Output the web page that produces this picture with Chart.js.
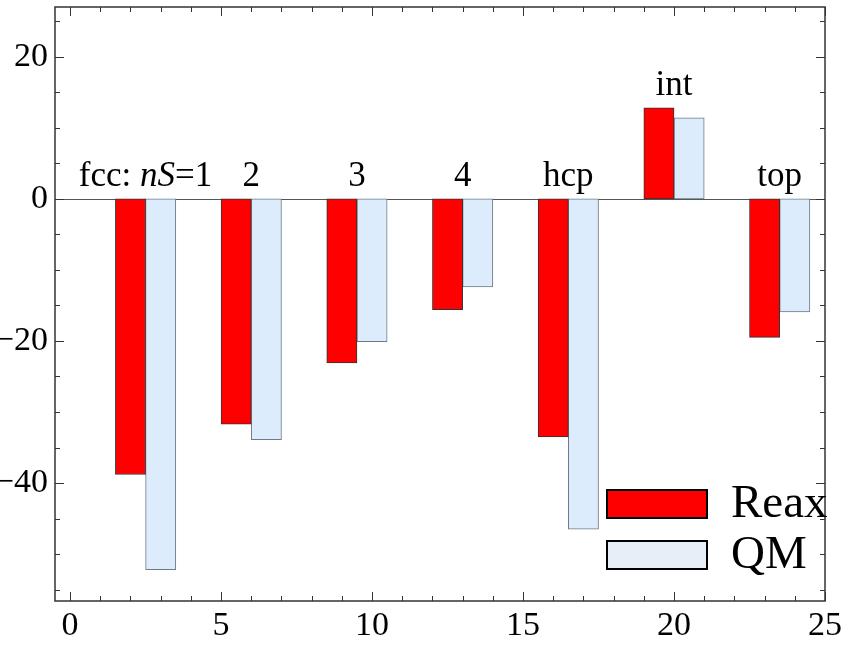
<!DOCTYPE html>
<html>
<head>
<meta charset="utf-8">
<script src="https://cdn.jsdelivr.net/npm/chart.js@4/dist/chart.umd.min.js"></script>
<style>
  html, body { margin: 0; padding: 0; background: #fff; }
  #wrap { width: 846px; height: 648px; }
</style>
</head>
<body>
<div id="wrap"><canvas id="chart"></canvas></div>
<script>
// ============================================
// DATA
// ============================================
// adsorption sites; text between * is drawn in italics
const siteLabels = ['fcc: *nS*=1', '2', '3', '4', 'hcp', 'int', 'top'];
const reaxX = [2, 5.5, 9, 12.5, 16, 19.5, 23];
const qmX = [3, 6.5, 10, 13.5, 17, 20.5, 24];
const reaxValues = [-38.8, -31.7, -23.1, -15.6, -33.5, 12.8, -19.5];
const qmValues = [-52.2, -33.9, -20.1, -12.4, -46.5, 11.4, -15.9];
const xTicks = [0, 5, 10, 15, 20, 25];
const yTicks = [-40, -20, 0, 20];

const SERIF = '"Liberation Serif", "Times New Roman", serif';

// ============================================
// PLUGINS
// ============================================
// zero line behind the bars
const zeroLine = {
  id: 'zeroLine',
  beforeDatasetsDraw(chart) {
    const { ctx, chartArea, scales } = chart;
    const y = Math.round(scales.y.getPixelForValue(0)) + 0.5;
    ctx.save();
    ctx.strokeStyle = '#555';
    ctx.lineWidth = 1;
    ctx.beginPath();
    ctx.moveTo(chartArea.left, y);
    ctx.lineTo(chartArea.right, y);
    ctx.stroke();
    ctx.restore();
  }
};

// Mathematica-style frame with inward ticks on all four sides
const frameTicks = {
  id: 'frameTicks',
  afterDatasetsDraw(chart) {
    const { ctx, chartArea: a, scales } = chart;
    ctx.save();
    ctx.strokeStyle = '#333';
    ctx.lineWidth = 1.5;
    ctx.strokeRect(a.left, a.top, a.right - a.left, a.bottom - a.top);

    ctx.lineWidth = 1;
    ctx.beginPath();
    // x: minor every 1, major every 5
    for (let v = Math.ceil(scales.x.min); v <= scales.x.max; v++) {
      const px = Math.round(scales.x.getPixelForValue(v)) + 0.5;
      const len = xTicks.includes(v) ? 9 : 5;
      ctx.moveTo(px, a.bottom); ctx.lineTo(px, a.bottom - len);
      ctx.moveTo(px, a.top); ctx.lineTo(px, a.top + len);
    }
    // y: minor every 5, major at labelled values
    for (let v = Math.ceil(scales.y.min / 5) * 5; v <= scales.y.max; v += 5) {
      const py = Math.round(scales.y.getPixelForValue(v)) + 0.5;
      const len = yTicks.includes(v) ? 9 : 5;
      ctx.moveTo(a.left, py); ctx.lineTo(a.left + len, py);
      ctx.moveTo(a.right, py); ctx.lineTo(a.right - len, py);
    }
    ctx.stroke();
    ctx.restore();
  }
};

// site names above each pair of bars
const siteNames = {
  id: 'siteNames',
  afterDatasetsDraw(chart) {
    const { ctx, scales } = chart;
    ctx.save();
    ctx.fillStyle = '#000';
    ctx.textBaseline = 'alphabetic';
    ctx.textAlign = 'left';
    siteLabels.forEach((label, i) => {
      const cx = scales.x.getPixelForValue((reaxX[i] + qmX[i]) / 2);
      const top = Math.max(0, reaxValues[i], qmValues[i]);
      const y = scales.y.getPixelForValue(top) - 13;
      const parts = label.split('*').map((t, k) => ({ text: t, italic: k % 2 === 1 }));
      const fontFor = p => `${p.italic ? 'italic ' : ''}35px ${SERIF}`;
      let width = 0;
      parts.forEach(p => { ctx.font = fontFor(p); width += ctx.measureText(p.text).width; });
      let x = cx - width / 2;
      parts.forEach(p => {
        ctx.font = fontFor(p);
        ctx.fillText(p.text, x, y);
        x += ctx.measureText(p.text).width;
      });
    });
    ctx.restore();
  }
};

// legend boxes in the lower right corner of the frame
const boxLegend = {
  id: 'boxLegend',
  afterDraw(chart) {
    const { ctx, chartArea: a } = chart;
    ctx.save();
    ctx.font = `47px ${SERIF}`;
    ctx.textBaseline = 'middle';
    ctx.textAlign = 'left';
    chart.data.datasets.forEach((ds, i) => {
      const bx = a.right - 218;
      const by = a.bottom - 111 + i * 51;
      ctx.fillStyle = ds.legendFill || ds.backgroundColor;
      ctx.fillRect(bx, by, 100, 28);
      ctx.strokeStyle = '#000';
      ctx.lineWidth = 2;
      ctx.strokeRect(bx, by, 100, 28);
      ctx.fillStyle = '#000';
      ctx.fillText(ds.label, bx + 124, by + 15);
    });
    ctx.restore();
  }
};

// ============================================
// CHART
// ============================================
const tickFont = { family: SERIF, size: 34 };

// keep the frame where the layout puts it, labels may overhang
function noEdgePadding(s) {
  s.paddingTop = 0;
  s.paddingBottom = 0;
  s.paddingLeft = 0;
  s.paddingRight = 0;
}

new Chart(document.getElementById('chart'), {
  type: 'bar',
  data: {
    datasets: [
      {
        label: 'Reax',
        data: reaxX.map((x, i) => ({ x, y: reaxValues[i] })),
        backgroundColor: '#ff0000',
        borderColor: '#333',
        borderWidth: 1,
        borderSkipped: false
      },
      {
        label: 'QM',
        data: qmX.map((x, i) => ({ x, y: qmValues[i] })),
        backgroundColor: '#dcecfc',
        legendFill: '#e6eef8',
        borderColor: '#6e7a86',
        borderWidth: 1,
        borderSkipped: false
      }
    ]
  },
  options: {
    responsive: true,
    maintainAspectRatio: false,
    animation: false,
    grouped: false,
    barPercentage: 1,
    categoryPercentage: 1,
    layout: { padding: { top: 7, right: 21, left: 0, bottom: 0 } },
    plugins: {
      legend: { display: false },
      tooltip: { enabled: false }
    },
    scales: {
      x: {
        type: 'linear',
        offset: false,
        min: -0.5,
        max: 25,
        grid: { display: false, drawTicks: false, offset: false },
        border: { display: false },
        afterBuildTicks: s => { s.ticks = xTicks.map(v => ({ value: v })); },
        afterFit: s => { s.height = 47; noEdgePadding(s); },
        ticks: { font: tickFont, color: '#000', padding: 5, maxRotation: 0 }
      },
      y: {
        min: -56.6,
        max: 27,
        grid: { display: false, drawTicks: false },
        border: { display: false },
        afterBuildTicks: s => { s.ticks = yTicks.map(v => ({ value: v })); },
        afterFit: s => { s.width = 55; noEdgePadding(s); },
        ticks: {
          font: tickFont,
          color: '#000',
          padding: 7,
          // typographic minus sign
          callback: v => String(v).replace('-', '\u2212')
        }
      }
    }
  },
  plugins: [zeroLine, frameTicks, siteNames, boxLegend]
});
</script>
</body>
</html>
